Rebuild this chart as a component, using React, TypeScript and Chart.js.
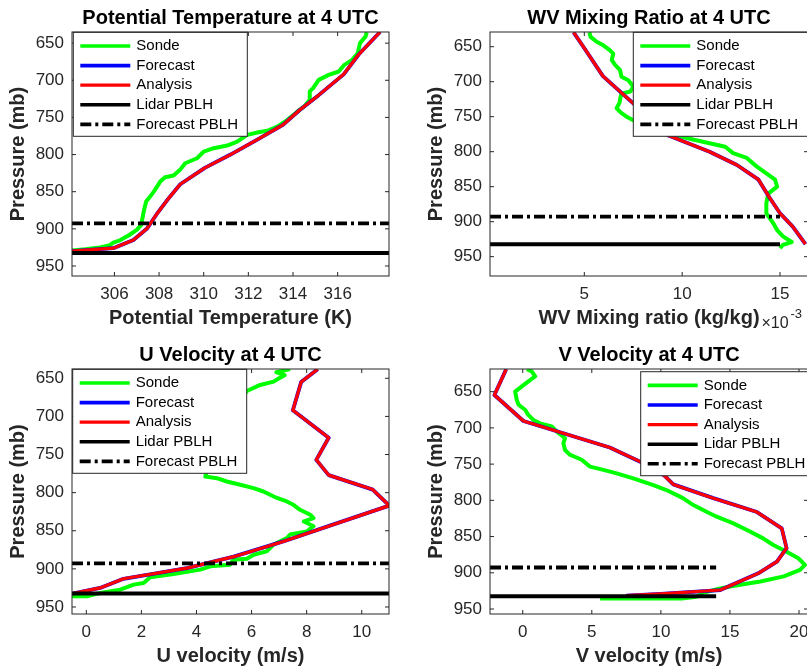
import React, { useEffect, useRef } from "react";
import { Chart, registerables } from "chart.js";

Chart.register(...registerables);

const FONT = '"Liberation Sans", Arial, Helvetica, sans-serif';
const AXIS_COLOR = "#262626";
const PAGE_W = 807;
const PAGE_H = 671;
const CANVAS_W = 830;

// ---------------- data ----------------
const seriesNames = ["Sonde", "Forecast", "Analysis", "Lidar PBLH", "Forecast PBLH"];
const pressureTicks = [650, 700, 750, 800, 850, 900, 950];
const thetaTicks = [306, 308, 310, 312, 314, 316];
const wvTicks = [5, 10, 15];
const uTicks = [0, 2, 4, 6, 8, 10];
const vTicks = [0, 5, 10, 15, 20];

const lidarPblh = 932.4; // mb
const forecastPblh = 892.7; // mb

// Potential temperature (K)
const thetaSondeP = [929.3, 927.5, 925, 922, 918.7, 915.4, 908.6, 901.5, 894.7, 883.5, 874.5, 863.3, 856.6, 847.6, 836.4, 830.5, 828.3, 820.6, 811.7, 805, 796, 791.4, 787.9, 782.5, 773.5, 769.9, 768, 762.3, 753.3, 742, 735.3, 726.3, 715, 710.6, 699.4, 692.7, 688.2, 679.2, 672.5, 663.5, 650, 641, 635.2];
const thetaSondeV = [304.1, 304.7, 305.35, 305.8, 305.95, 306.25, 306.65, 307.0, 307.2, 307.27, 307.33, 307.42, 307.6, 307.82, 308.05, 308.27, 308.65, 308.94, 309.17, 309.7, 310.0, 310.45, 311.05, 311.5, 311.95, 312.45, 312.85, 313.3, 313.75, 314.2, 314.5, 314.75, 314.75, 314.9, 315.15, 315.6, 316.05, 316.3, 316.65, 316.9, 317.0, 317.25, 317.3];
const thetaAnaP = [930, 926, 915, 900, 880, 860, 840, 818, 800, 780, 760, 740, 720, 692, 665, 635];
const thetaAnaV = [304.1, 305.95, 306.85, 307.45, 307.9, 308.4, 308.95, 310.05, 311.2, 312.4, 313.55, 314.3, 315.15, 316.27, 316.95, 317.9];
const thetaFcstV = [304.1, 305.95, 306.85, 307.45, 307.9, 308.4, 308.95, 310.05, 311.2, 312.4, 313.55, 314.3, 315.15, 316.27, 316.95, 317.9];

// WV mixing ratio (x 1e-3 kg/kg)
const wvSondeP = [629.5, 636, 643, 648, 655, 660, 669, 676, 683, 693, 698, 707, 714, 717, 722, 730, 738, 745, 750, 755, 762, 770, 778, 783, 788, 793, 802, 809, 821, 831, 840, 850, 860, 874, 888, 902, 912, 921, 929, 933, 938];
const wvSondeV = [5.26, 5.32, 5.63, 5.97, 6.3, 6.48, 6.4, 6.57, 6.82, 6.9, 7.25, 7.5, 7.35, 6.9, 6.85, 6.8, 6.65, 6.9, 7.16, 7.5, 8.0, 8.8, 9.9, 10.6, 11.4, 12.2, 12.6, 13.3, 13.8, 14.3, 14.75, 14.85, 14.4, 14.3, 14.3, 14.65, 14.85, 15.15, 15.6, 15.15, 15.0];
const wvAnaP = [629.5, 650, 692, 731, 755, 777, 800, 819, 840, 865, 888, 907, 932];
const wvAnaV = [4.45, 4.95, 5.95, 7.5, 8.4, 9.3, 11.4, 12.8, 13.9, 14.45, 15.0, 15.65, 16.3];
const wvFcstV = [4.45, 4.95, 5.95, 7.5, 8.4, 9.3, 11.4, 12.8, 13.9, 14.45, 15.0, 15.65, 16.3];

// U velocity (m/s)
const uSondeP = [936, 936, 931.7, 927.3, 920.7, 918.5, 911, 906.8, 901, 896.7, 894.5, 888, 886.7, 881.4, 877, 868, 859.6, 855, 851, 844, 837.8, 833.4, 829, 822.5, 816, 811.6, 807, 798.5, 794, 789.7, 785.4, 781, 778.8, 770, 755, 735, 715, 695, 678, 666.6, 658.7, 654.4, 650, 646, 642, 638];
const uSondeV = [-0.52, 0.02, 0.5, 1.23, 1.72, 2.08, 2.32, 3.17, 4.14, 4.5, 5.22, 5.34, 5.83, 6.07, 6.55, 6.8, 7.28, 7.4, 8.0, 8.25, 7.9, 8.25, 8.13, 7.76, 7.52, 7.28, 6.92, 6.43, 6.07, 5.59, 5.1, 4.74, 4.32, 4.4, 4.6, 4.8, 5.0, 5.3, 5.6, 5.83, 6.31, 6.8, 7.0, 7.2, 6.9, 7.4];
const uAnaP = [932.5, 925, 913, 899, 884, 864, 842, 817, 796, 777, 757, 728, 692, 655, 638];
const uAnaV = [-0.5, 0.5, 1.35, 3.65, 5.35, 7.15, 8.95, 11.0, 10.4, 8.8, 8.35, 8.8, 7.5, 7.8, 8.4];
const uFcstV = [-0.5, 0.5, 1.35, 3.65, 5.35, 7.15, 8.95, 11.0, 10.4, 8.8, 8.35, 8.8, 7.5, 7.8, 8.4];

// V velocity (m/s)
const vSondeP = [619, 622, 629, 634, 641, 650, 661.5, 668, 675, 682, 689, 693.7, 698, 705, 714.4, 721, 730.5, 737, 744, 753.5, 758, 762.7, 769.6, 778.9, 785.8, 797, 806.5, 815.7, 822.6, 831.8, 843, 852.5, 861.7, 871, 880, 889, 896, 905, 912, 918, 922, 928, 933, 935.5, 935.5];
const vSondeV = [0.3, 0.65, 0.9, 0.53, 0.05, -0.55, -0.43, -0.3, 0.17, 0.4, 0.77, 1.25, 2.1, 2.46, 3.06, 2.94, 3.06, 3.4, 4.27, 4.87, 5.84, 6.8, 8.0, 9.46, 10.4, 11.6, 12.35, 13.3, 14.04, 15.25, 16.45, 17.4, 18.14, 19.1, 19.95, 20.43, 20.07, 18.9, 17.2, 15.3, 14.2, 13.0, 12.6, 11.5, 5.6];
const vAnaP = [619, 654.6, 690.5, 727, 746.6, 765, 778, 797, 815.7, 838.7, 866, 884.7, 900.8, 923.8, 929, 931.5];
const vAnaV = [-1.2, -2.05, 0.05, 6.3, 8.5, 10.2, 10.9, 13.8, 16.9, 18.75, 19.1, 18.4, 17.05, 14.3, 10.0, 7.5];
const vFcstV = [-1.2, -2.05, 0.05, 6.3, 8.5, 10.2, 10.9, 13.8, 16.9, 18.75, 19.1, 18.4, 17.05, 14.3, 10.0, 7.5];

// ---------------- layout ----------------
type Area = { l: number; t: number; r: number; b: number };
type Panel = {
  key: string;
  title: string;
  xLabel: string;
  area: Area;
  xMin: number;
  xMax: number;
  yMin: number;
  yMax: number;
  xTicks: number[];
  sondeP: number[];
  sondeV: number[];
  anaP: number[];
  anaV: number[];
  fcstV: number[];
  pblhX: number[];
  legend: { x: number; y: number; w: number };
  exponent: boolean;
};

const panels: Panel[] = [
  {
    key: "theta", title: "Potential Temperature at 4 UTC", xLabel: "Potential Temperature (K)",
    area: { l: 72, t: 32, r: 389, b: 276 }, xMin: 304.1, xMax: 318.3, yMin: 635, yMax: 963.5,
    xTicks: thetaTicks, sondeP: thetaSondeP, sondeV: thetaSondeV, anaP: thetaAnaP, anaV: thetaAnaV, fcstV: thetaFcstV,
    pblhX: [304.1, 318.3], legend: { x: 73.3, y: 32.3, w: 174 }, exponent: false,
  },
  {
    key: "wv", title: "WV Mixing Ratio at 4 UTC", xLabel: "WV Mixing ratio (kg/kg)",
    area: { l: 490, t: 32, r: 808, b: 276 }, xMin: 0.18, xMax: 16.43, yMin: 629, yMax: 977.6,
    xTicks: wvTicks, sondeP: wvSondeP, sondeV: wvSondeV, anaP: wvAnaP, anaV: wvAnaV, fcstV: wvFcstV,
    pblhX: [0.18, 15.0], legend: { x: 633.3, y: 32.3, w: 176 }, exponent: true,
  },
  {
    key: "u", title: "U Velocity at 4 UTC", xLabel: "U velocity (m/s)",
    area: { l: 72, t: 369, r: 389, b: 614 }, xMin: -0.52, xMax: 10.99, yMin: 637.8, yMax: 959.2,
    xTicks: uTicks, sondeP: uSondeP, sondeV: uSondeV, anaP: uAnaP, anaV: uAnaV, fcstV: uFcstV,
    pblhX: [-0.52, 11.0], legend: { x: 72.7, y: 369.3, w: 174 }, exponent: false,
  },
  {
    key: "v", title: "V Velocity at 4 UTC", xLabel: "V velocity (m/s)",
    area: { l: 490, t: 369, r: 808, b: 614 }, xMin: -2.37, xMax: 20.65, yMin: 618.7, yMax: 956.9,
    xTicks: vTicks, sondeP: vSondeP, sondeV: vSondeV, anaP: vAnaP, anaV: vAnaV, fcstV: vFcstV,
    pblhX: [-2.37, 14.0], legend: { x: 640.7, y: 371.7, w: 180 }, exponent: false,
  },
];

const Y_AXIS_W = 65.4;
const X_AXIS_H = 54.1;
const TICK_LEN = 4;

function toPoints(P: number[], V: number[]) {
  return P.map((p, i) => ({ x: V[i], y: p }));
}

function framePlugin(panel: Panel) {
  return {
    id: "matlabFrame",
    afterDraw(chart: any) {
      const { ctx, chartArea: a, scales } = chart;
      const xs = scales.x;
      const ys = scales.y;
      ctx.save();
      // inward ticks on all four sides
      ctx.strokeStyle = AXIS_COLOR;
      ctx.lineWidth = 1;
      ctx.setLineDash([]);
      ctx.beginPath();
      for (const t of xs.ticks) {
        const px = xs.getPixelForValue(t.value);
        ctx.moveTo(px, a.bottom);
        ctx.lineTo(px, a.bottom - TICK_LEN);
        ctx.moveTo(px, a.top);
        ctx.lineTo(px, a.top + TICK_LEN);
      }
      for (const t of ys.ticks) {
        const py = ys.getPixelForValue(t.value);
        ctx.moveTo(a.left, py);
        ctx.lineTo(a.left + TICK_LEN, py);
        ctx.moveTo(a.right, py);
        ctx.lineTo(a.right - TICK_LEN, py);
      }
      ctx.stroke();

      // legend
      const lg = panel.legend;
      const h = 104;
      ctx.fillStyle = "#ffffff";
      ctx.fillRect(lg.x, lg.y, lg.w, h);
      ctx.strokeStyle = AXIS_COLOR;
      ctx.lineWidth = 1;
      ctx.strokeRect(lg.x, lg.y, lg.w, h);
      ctx.font = `15px ${FONT}`;
      ctx.textBaseline = "middle";
      ctx.textAlign = "left";
      seriesNames.forEach((name, i) => {
        const ds = chart.data.datasets.find((d: any) => d.label === name);
        const cy = lg.y + 13.7 + i * 19.6;
        ctx.beginPath();
        ctx.strokeStyle = ds.borderColor;
        ctx.lineWidth = Math.min(ds.borderWidth, 3.6);
        ctx.setLineDash(ds.borderDash || []);
        ctx.lineCap = "butt";
        ctx.moveTo(lg.x + 7, cy);
        ctx.lineTo(lg.x + 57, cy);
        ctx.stroke();
        ctx.setLineDash([]);
        ctx.fillStyle = "#000000";
        ctx.fillText(name, lg.x + 63, cy);
      });

      // axes box
      ctx.strokeStyle = AXIS_COLOR;
      ctx.lineWidth = 1;
      ctx.strokeRect(a.left, a.top, a.right - a.left, a.bottom - a.top);

      if (panel.exponent) {
        ctx.fillStyle = AXIS_COLOR;
        ctx.textBaseline = "alphabetic";
        ctx.font = `16px ${FONT}`;
        ctx.fillText("\u00d710", 761.5, 328);
        ctx.font = `13px ${FONT}`;
        ctx.fillText("-3", 790.5, 318);
      }
      ctx.restore();
    },
  };
}

function makeConfig(p: Panel): any {
  const a = p.area;
  const common = {
    showLine: true,
    pointRadius: 0,
    pointHoverRadius: 0,
    fill: false,
    tension: 0,
    borderJoinStyle: "round",
    borderCapStyle: "butt",
  };
  const datasets = [
    {
      label: "Forecast PBLH",
      data: [{ x: p.pblhX[0], y: forecastPblh }, { x: p.pblhX[1], y: forecastPblh }],
      borderColor: "#000000",
      borderWidth: 3.8,
      borderDash: [11, 4, 3, 4],
    },
    {
      label: "Lidar PBLH",
      data: [{ x: p.pblhX[0], y: lidarPblh }, { x: p.pblhX[1], y: lidarPblh }],
      borderColor: "#000000",
      borderWidth: 4,
    },
    { label: "Analysis", data: toPoints(p.anaP, p.anaV), borderColor: "#ff0000", borderWidth: 3.2 },
    { label: "Forecast", data: toPoints(p.anaP, p.fcstV), borderColor: "#0000ff", borderWidth: 3.8 },
    { label: "Sonde", data: toPoints(p.sondeP, p.sondeV), borderColor: "#00ff00", borderWidth: 4 },
  ].map((d) => ({ ...common, ...d }));

  const tickFont = { family: FONT, size: 17 };
  const labelFont = { family: FONT, size: 20, weight: "bold" };

  return {
    type: "scatter",
    data: { datasets },
    options: {
      responsive: false,
      animation: false,
      devicePixelRatio: 1,
      events: [],
      layout: {
        padding: {
          left: a.l - Y_AXIS_W,
          top: a.t - 25.9,
          right: CANVAS_W - a.r,
          bottom: PAGE_H - a.b - X_AXIS_H,
        },
      },
      plugins: {
        legend: { display: false },
        tooltip: { enabled: false },
        title: {
          display: true,
          text: p.title,
          fullSize: false,
          color: "#000000",
          font: labelFont,
          padding: { top: 0, bottom: 1.9 },
        },
      },
      scales: {
        x: {
          type: "linear",
          position: "bottom",
          min: p.xMin,
          max: p.xMax,
          afterBuildTicks: (s: any) => {
            s.ticks = p.xTicks.map((v) => ({ value: v }));
          },
          afterFit: (s: any) => {
            s.height = X_AXIS_H;
          },
          grid: { display: false, drawTicks: false },
          border: { display: false },
          ticks: {
            font: tickFont,
            color: AXIS_COLOR,
            padding: 7.9,
            autoSkip: false,
            maxRotation: 0,
            callback: (v: any) => String(v),
          },
          title: { display: true, text: p.xLabel, color: AXIS_COLOR, font: labelFont, padding: 0 },
        },
        y: {
          type: "linear",
          position: "left",
          reverse: true,
          min: p.yMin,
          max: p.yMax,
          afterBuildTicks: (s: any) => {
            s.ticks = pressureTicks.map((v) => ({ value: v }));
          },
          afterFit: (s: any) => {
            s.width = Y_AXIS_W;
          },
          grid: { display: false, drawTicks: false },
          border: { display: false },
          ticks: {
            font: tickFont,
            color: AXIS_COLOR,
            padding: 8,
            autoSkip: false,
            callback: (v: any) => String(v),
          },
          title: { display: true, text: "Pressure (mb)", color: AXIS_COLOR, font: labelFont, padding: 0 },
        },
      },
    },
    plugins: [framePlugin(p)],
  };
}

function PanelChart({ panel }: { panel: Panel }) {
  const ref = useRef<HTMLCanvasElement | null>(null);
  useEffect(() => {
    if (!ref.current) return;
    const chart = new Chart(ref.current, makeConfig(panel));
    return () => chart.destroy();
  }, [panel]);
  return (
    <canvas
      ref={ref}
      width={CANVAS_W}
      height={PAGE_H}
      style={{ position: "absolute", left: 0, top: 0, width: CANVAS_W, height: PAGE_H }}
    />
  );
}

export default function App() {
  return (
    <div
      style={{
        position: "fixed",
        left: 0,
        top: 0,
        width: PAGE_W,
        height: PAGE_H,
        overflow: "hidden",
        background: "#ffffff",
      }}
    >
      {panels.map((p) => (
        <PanelChart key={p.key} panel={p} />
      ))}
    </div>
  );
}
